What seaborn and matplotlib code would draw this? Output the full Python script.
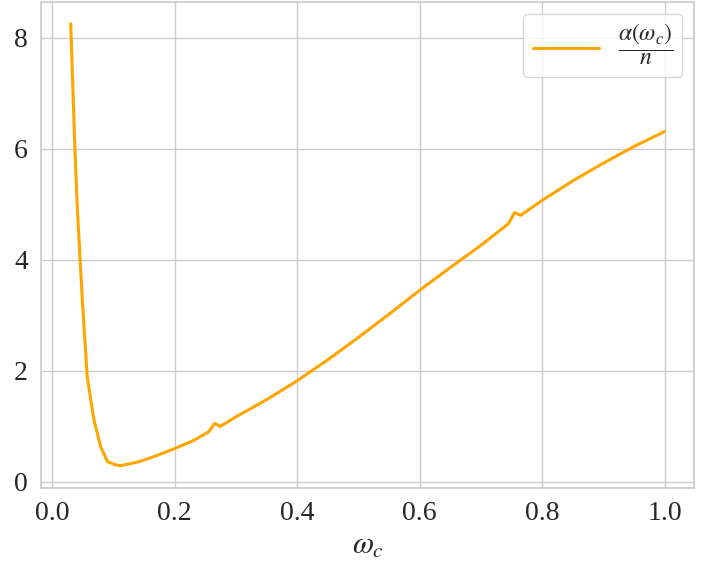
import matplotlib
matplotlib.use("Agg")
import matplotlib.pyplot as plt
import seaborn as sns

# omega_c samples and alpha(omega_c)/n
wc = [0.030, 0.037, 0.041, 0.049, 0.057, 0.068, 0.079, 0.090, 0.103, 0.111,
      0.125, 0.144, 0.170, 0.200, 0.230, 0.2555, 0.265, 0.2745, 0.300, 0.350,
      0.400, 0.450, 0.500, 0.550, 0.600, 0.650, 0.700, 0.745, 0.755, 0.765,
      0.800, 0.850, 0.900, 0.950, 1.000]
alpha_n = [8.25, 5.96, 4.89, 3.27, 1.89, 1.11, 0.63, 0.365, 0.305, 0.29,
           0.32, 0.37, 0.47, 0.60, 0.74, 0.90, 1.05, 1.00, 1.17, 1.48,
           1.82, 2.20, 2.60, 3.02, 3.45, 3.86, 4.26, 4.65, 4.85, 4.80,
           5.07, 5.42, 5.74, 6.04, 6.31]

sns.set_theme(style="whitegrid")
plt.rcParams['font.family'] = ['Liberation Serif', 'DejaVu Serif']
plt.rcParams['mathtext.fontset'] = 'stix'
plt.rcParams['font.size'] = 20

fig, ax = plt.subplots(figsize=(7.07, 5.8), dpi=100)
fig.subplots_adjust(left=0.058, right=0.982, top=0.997, bottom=0.159)

sns.lineplot(x=wc, y=alpha_n, color='orange', linewidth=2.2,
             label=r'$\dfrac{\alpha(\omega_c)}{n}$', ax=ax)

ax.set_xlabel(r'$\omega_c$', fontsize=22)
ax.set_ylabel('')
ax.set_xticks([0.0, 0.2, 0.4, 0.6, 0.8, 1.0])
ax.set_yticks([0, 2, 4, 6, 8])
ax.tick_params(labelsize=20)
ax.legend(loc='upper right', fontsize=17, handlelength=2.8)

plt.savefig("out.png", dpi=100)
